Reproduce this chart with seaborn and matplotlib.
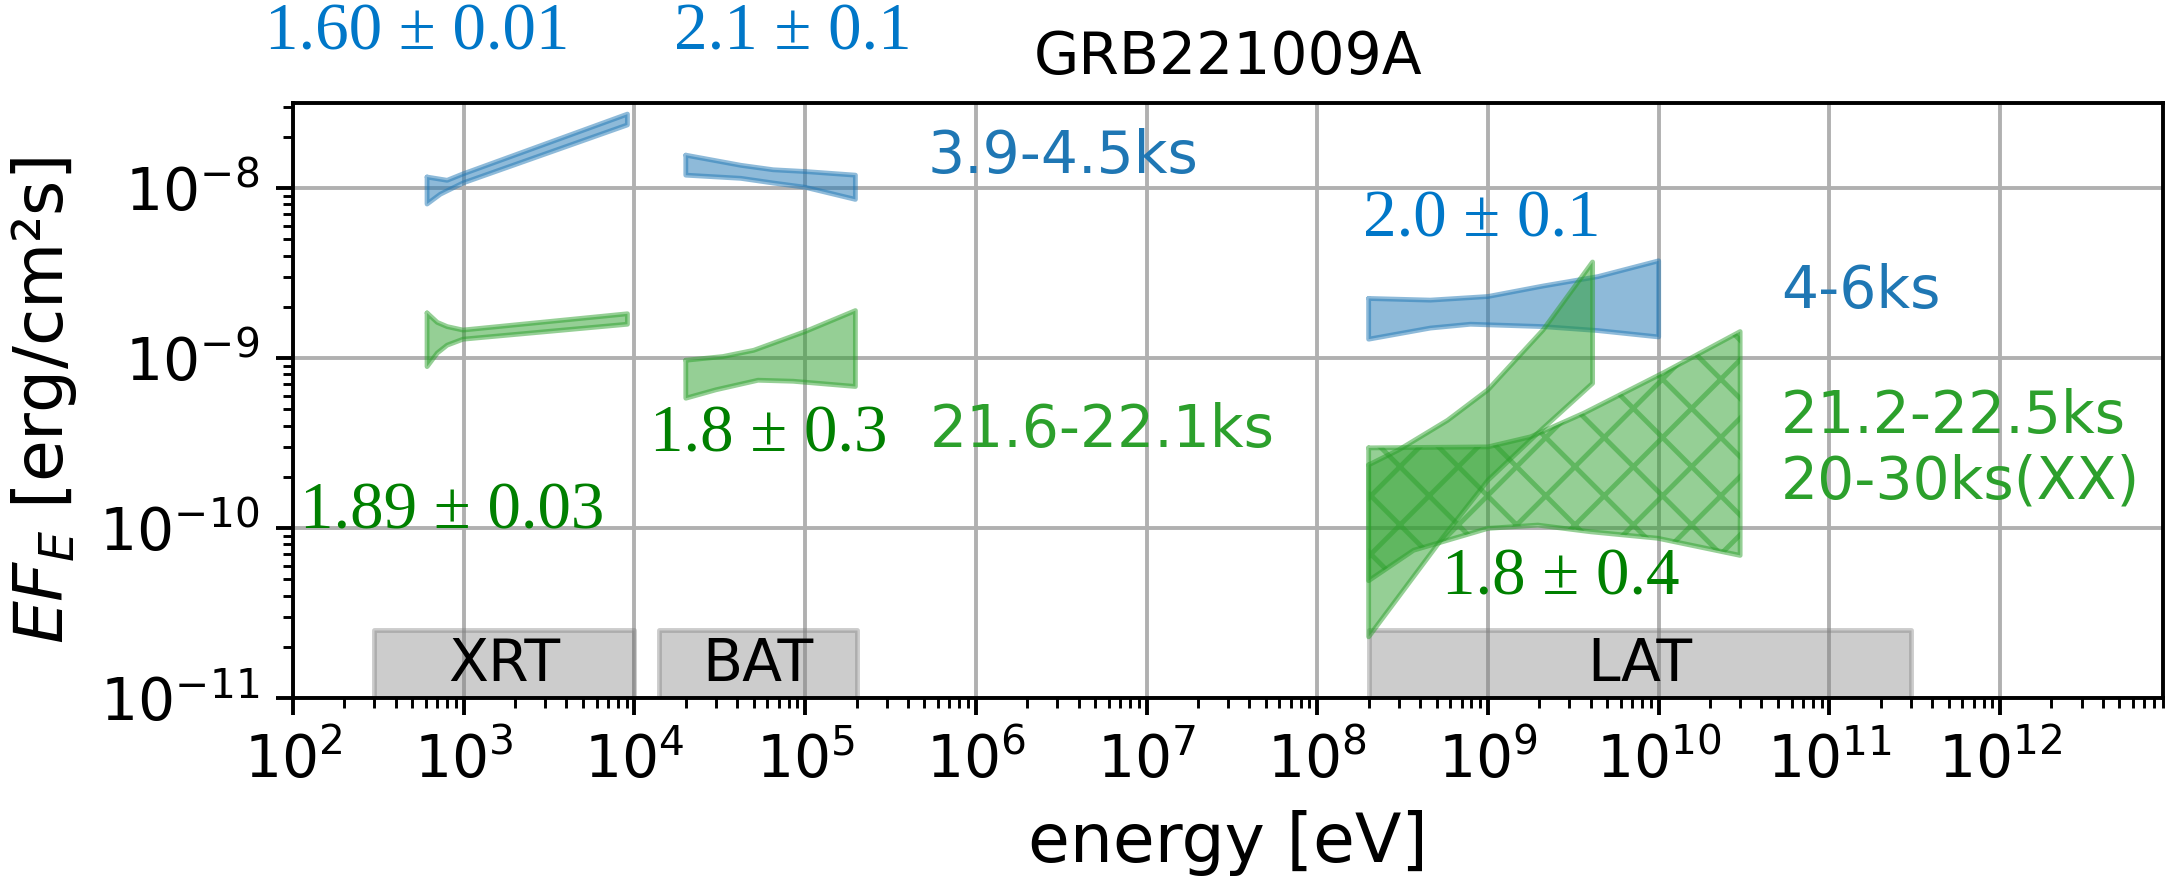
import numpy as np
import matplotlib
matplotlib.use("Agg")
import matplotlib.pyplot as plt
from matplotlib.ticker import LogLocator, NullFormatter
import seaborn as sns

# ---------------------------------------------------------------
# Spectral bow-ties (energy in eV, E*F_E in erg/cm^2/s)
# each band: upper envelope and lower envelope
# ---------------------------------------------------------------
# 3.9-4.5 ks, XRT
xrt_a_E_hi = [6.1e2, 8.0e2, 9.9e2, 9.1e3]
xrt_a_F_hi = [1.16e-8, 1.11e-8, 1.21e-8, 2.72e-8]
xrt_a_E_lo = [6.1e2, 7.3e2, 9.9e2, 9.1e3]
xrt_a_F_lo = [8.05e-9, 9.2e-9, 1.07e-8, 2.35e-8]

# 3.9-4.5 ks, BAT
bat_a_E_hi = [2.0e4, 4.2e4, 6.5e4, 1.0e5, 1.97e5]
bat_a_F_hi = [1.56e-8, 1.36e-8, 1.28e-8, 1.25e-8, 1.19e-8]
bat_a_E_lo = [2.0e4, 4.2e4, 6.5e4, 1.0e5, 1.97e5]
bat_a_F_lo = [1.19e-8, 1.14e-8, 1.07e-8, 1.01e-8, 8.57e-9]

# 21.6-22.1 ks, XRT
xrt_b_E_hi = [6.1e2, 7.0e2, 8.0e2, 9.9e2, 9.1e3]
xrt_b_F_hi = [1.84e-9, 1.62e-9, 1.53e-9, 1.46e-9, 1.82e-9]
xrt_b_E_lo = [6.1e2, 7.0e2, 8.0e2, 9.9e2, 9.1e3]
xrt_b_F_lo = [8.9e-10, 1.07e-9, 1.19e-9, 1.29e-9, 1.58e-9]

# 21.6-22.1 ks, BAT
bat_b_E_hi = [2.0e4, 3.3e4, 5.0e4, 1.0e5, 1.97e5]
bat_b_F_hi = [9.7e-10, 1.02e-9, 1.11e-9, 1.43e-9, 1.90e-9]
bat_b_E_lo = [2.0e4, 3.0e4, 5.3e4, 8.5e4, 1.97e5]
bat_b_F_lo = [5.8e-10, 6.5e-10, 7.4e-10, 7.3e-10, 6.8e-10]

# 4-6 ks, LAT
lat_a_E_hi = [2.0e8, 4.6e8, 1.0e9, 2.1e9, 4.4e9, 1.0e10]
lat_a_F_hi = [2.24e-9, 2.19e-9, 2.30e-9, 2.65e-9, 3.01e-9, 3.73e-9]
lat_a_E_lo = [2.0e8, 4.6e8, 7.9e8, 2.1e9, 4.4e9, 1.0e10]
lat_a_F_lo = [1.29e-9, 1.50e-9, 1.58e-9, 1.53e-9, 1.45e-9, 1.33e-9]

# 21.2-22.5 ks, LAT
lat_b_E_hi = [2.0e8, 3.0e8, 5.8e8, 1.0e9, 2.1e9, 4.1e9]
lat_b_F_hi = [2.35e-10, 2.88e-10, 4.3e-10, 6.5e-10, 1.46e-9, 3.67e-9]
lat_b_E_lo = [2.0e8, 5.3e8, 1.0e9, 1.96e9, 4.1e9]
lat_b_F_lo = [2.29e-11, 8.5e-11, 1.91e-10, 3.62e-10, 7.1e-10]

# 20-30 ks, LAT (hatched)
lat_c_E_hi = [2.0e8, 1.0e9, 1.78e9, 3.65e9, 1.07e10, 3.0e10]
lat_c_F_hi = [2.96e-10, 3.0e-10, 3.44e-10, 4.74e-10, 8.2e-10, 1.43e-9]
lat_c_E_lo = [2.0e8, 3.67e8, 1.0e9, 1.96e9, 4.0e9, 9.9e9, 3.0e10]
lat_c_F_lo = [4.9e-11, 7.4e-11, 9.95e-11, 1.04e-10, 9.5e-11, 8.7e-11, 6.9e-11]

# instrument energy ranges [eV]
instruments = ["XRT", "BAT", "LAT"]
instr_lo = [3e2, 1.4e4, 2e8]
instr_hi = [1e4, 2e5, 3e11]
instr_top = 2.5e-11

# photon-index and time-interval annotations
index_text = ["1.60 ± 0.01", "2.1 ± 0.1", "2.0 ± 0.1",
              "1.8 ± 0.3", "1.89 ± 0.03", "1.8 ± 0.4"]
index_E = [68.5, 1.71e4, 1.85e8, 1.24e4, 110, 5.4e8]
index_F = [6.5e-8, 6.5e-8, 5.15e-9, 2.8e-10, 1.0e-10, 4.04e-11]
index_col = ["#0077c8", "#0077c8", "#0077c8", "#008000", "#008000", "#008000"]

period_text = ["3.9-4.5ks", "4-6ks", "21.6-22.1ks", "21.2-22.5ks", "20-30ks(XX)"]
period_E = [5.2e5, 5.2e10, 5.4e5, 5.2e10, 5.2e10]
period_F = [1.22e-8, 1.97e-9, 2.99e-10, 3.6e-10, 1.5e-10]

BLUE = "#1f77b4"
GREEN = "#2ca02c"
period_col = [BLUE, BLUE, GREEN, GREEN, GREEN]

# ---------------------------------------------------------------
sns.set_style("ticks", rc={"text.color": "black", "axes.labelcolor": "black",
                           "xtick.color": "black", "ytick.color": "black",
                           "axes.edgecolor": "black"})
plt.rcParams["font.family"] = ["DejaVu Sans"]
plt.rcParams["mathtext.fontset"] = "dejavusans"
plt.rcParams["hatch.linewidth"] = 1.0

DPI = 350
fig = plt.figure(figsize=(2169 / DPI, 881 / DPI), dpi=DPI)
ax = fig.add_axes([293 / 2169, 1 - 698 / 881, (2163 - 293) / 2169, (698 - 103) / 881])
ax.set_xscale("log")
ax.set_yscale("log")


def bowtie(E_hi, F_hi, E_lo, F_lo, color, hatch=None):
    xs = list(E_hi) + list(E_lo)[::-1] + [E_hi[0]]
    ys = list(F_hi) + list(F_lo)[::-1] + [F_hi[0]]
    ax.fill(xs, ys, facecolor=color, edgecolor=color, alpha=0.5,
            lw=0, hatch=hatch, zorder=2)
    sns.lineplot(x=xs, y=ys, sort=False, estimator=None, color=color,
                 alpha=0.5, lw=1.0, ax=ax, zorder=2)


bowtie(xrt_a_E_hi, xrt_a_F_hi, xrt_a_E_lo, xrt_a_F_lo, BLUE)
bowtie(bat_a_E_hi, bat_a_F_hi, bat_a_E_lo, bat_a_F_lo, BLUE)
bowtie(xrt_b_E_hi, xrt_b_F_hi, xrt_b_E_lo, xrt_b_F_lo, GREEN)
bowtie(bat_b_E_hi, bat_b_F_hi, bat_b_E_lo, bat_b_F_lo, GREEN)
bowtie(lat_a_E_hi, lat_a_F_hi, lat_a_E_lo, lat_a_F_lo, BLUE)
bowtie(lat_b_E_hi, lat_b_F_hi, lat_b_E_lo, lat_b_F_lo, GREEN)
bowtie(lat_c_E_hi, lat_c_F_hi, lat_c_E_lo, lat_c_F_lo, GREEN, hatch="xx")

# instrument bands along the bottom
for name, lo, hi in zip(instruments, instr_lo, instr_hi):
    ax.fill_between([lo, hi], 1e-11, instr_top, color="gray", alpha=0.4,
                    lw=1.0, zorder=1)
    ax.text(np.sqrt(lo * hi), np.sqrt(1e-11 * instr_top), name,
            ha="center", va="center", fontsize=12, color="black")

for s, e, f, c in zip(index_text, index_E, index_F, index_col):
    ax.text(e, f, s, color=c, fontsize=13.8, family="Liberation Serif",
            ha="left", va="baseline")

for s, e, f, c in zip(period_text, period_E, period_F, period_col):
    ax.text(e, f, s, color=c, fontsize=12, ha="left", va="baseline")

ax.set_xlim(1e2, 9e12)
ax.set_ylim(1e-11, 10 ** -7.5)

for axis in (ax.xaxis, ax.yaxis):
    axis.set_major_locator(LogLocator(base=10, numticks=40))
    axis.set_minor_locator(LogLocator(base=10, subs=np.arange(2, 10), numticks=40))
    axis.set_minor_formatter(NullFormatter())

ax.tick_params(which="major", length=3.5, width=0.8, direction="out",
               labelsize=12, color="black", labelcolor="black", pad=3.5)
ax.tick_params(which="minor", length=2, width=0.6, direction="out", color="black")
for sp in ax.spines.values():
    sp.set_visible(True)
    sp.set_color("black")
    sp.set_linewidth(0.8)

ax.grid(True, which="major", color="#b0b0b0", lw=0.8)
ax.set_axisbelow(True)

ax.set_xlabel("energy [eV]", fontsize=14, color="black")
ax.set_ylabel("$EF_E$ [erg/cm²s]", fontsize=14, color="black")
ax.set_title("GRB221009A", fontsize=12, pad=6, color="black")

fig.savefig("out.png", dpi=DPI)
